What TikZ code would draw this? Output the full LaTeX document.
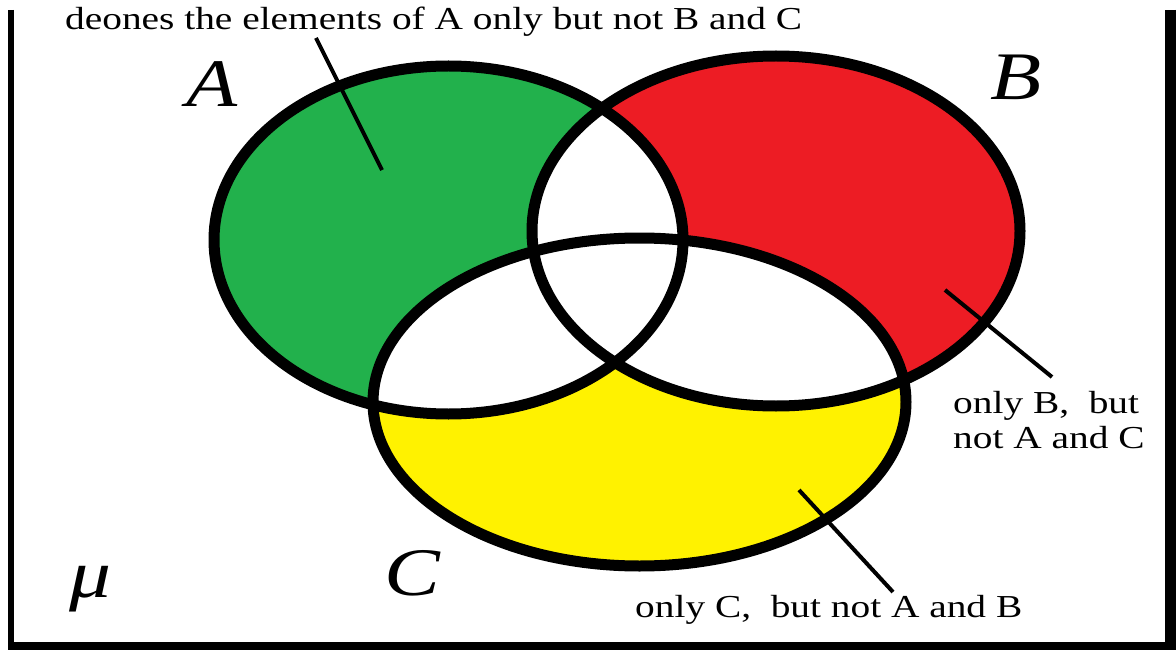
\documentclass[tikz,border=0pt]{standalone}
\usepackage{fontspec}
\setmainfont{Liberation Serif}
\usepackage{graphicx}
\definecolor{pgreen}{HTML}{22B14C}
\definecolor{pred}{HTML}{ED1C24}
\definecolor{pyellow}{HTML}{FFF200}
\def\EA{(448.5,240) ellipse [x radius=234.5, y radius=174]}
\def\EB{(776,231) ellipse [x radius=244, y radius=175]}
\def\EC{(639.5,402) ellipse [x radius=266.5, y radius=164]}
\newcommand{\wide}[1]{\scalebox{1.23}[1]{#1}}
\begin{document}
\begin{tikzpicture}[x=1pt,y=-1pt,
  outline/.style={line width=11pt},
  pointer/.style={line width=4pt},
  lbl/.style={inner sep=0pt, font=\fontsize{32}{38}\selectfont},
  setname/.style={inner sep=0pt, font=\fontsize{68}{80}\selectfont\itshape}]
\useasboundingbox (0,0) rectangle (1176,650);
\fill[white] (0,0) rectangle (1176,650);
% frame
\draw[line width=6pt] (11,10) -- (11,648);
\draw[line width=11pt] (1170.5,10) -- (1170.5,650);
\draw[line width=8pt] (8,646) -- (1176,646);
% fills
\fill[pgreen] \EA;
\fill[pred] \EB;
\fill[pyellow] \EC;
\begin{scope}
  \clip \EA;
  \fill[white] \EB;
  \fill[white] \EC;
\end{scope}
\begin{scope}
  \clip \EB;
  \fill[white] \EC;
\end{scope}
% outlines
\draw[outline] \EA;
\draw[outline] \EB;
\draw[outline] \EC;
% labels
\node[lbl, anchor=base west] (tA) at (65,30) {\wide{deones the elements of A only but not B and C}};
\node[lbl, anchor=base west] (tB1) at (953,413) {\wide{only B,~ but}};
\node[lbl, anchor=base west] (tB2) at (953,448) {\wide{not A and C}};
\node[lbl, anchor=base west] (tC) at (635,617) {\wide{only C,~ but not A and B}};
\node[setname, anchor=base] (lA) at (212,107) {\wide{A}};
\node[setname, anchor=base] (lB) at (1016,100) {\wide{B}};
\node[setname, anchor=base] (lC) at (412,595) {\wide{C}};
\node[setname, anchor=base] (lU) at (90,597) {\wide{μ}};
% pointers
\coordinate (pAs) at (316,38);
\coordinate (pAe) at (382,170);
\coordinate (pBs) at (945,290);
\coordinate (pBe) at (1052,377);
\coordinate (pCs) at (799,490);
\coordinate (pCe) at (893,592);
\draw[pointer] (pAs) -- (pAe);
\draw[pointer] (pBs) -- (pBe);
\draw[pointer] (pCs) -- (pCe);
\end{tikzpicture}
\end{document}
